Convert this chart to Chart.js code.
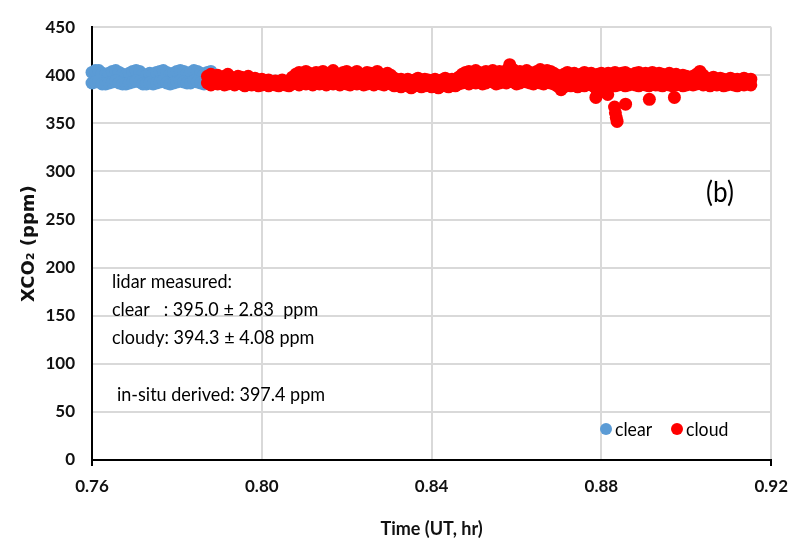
<!DOCTYPE html>
<html><head><meta charset="utf-8">
<script src="https://cdn.jsdelivr.net/npm/chart.js@4.4.0/dist/chart.umd.min.js"></script>
<style>html,body{margin:0;padding:0;background:#fff;}#wrap{width:798px;height:548px;}</style>
</head><body><div id="wrap"><canvas id="c" width="798" height="548"></canvas></div>
<script>
const xTicks = [0.76, 0.80, 0.84, 0.88, 0.92];
const yTicks = [0, 50, 100, 150, 200, 250, 300, 350, 400, 450];
const seriesNames = ['clear', 'cloud'];
const seriesColors = ['#5B9BD5', '#FF0000'];

// clear-sky soundings: time (UT, hr), upper and lower edge of the scatter band (ppm)
const clearTime = [0.7600,0.7608,0.7616,0.7624,0.7632,0.7640,0.7648,0.7656,0.7664,0.7672,0.7680,0.7688,0.7696,0.7704,0.7712,0.7720,0.7728,0.7736,0.7744,0.7752,0.7760,0.7768,0.7776,0.7784,0.7792,0.7800,0.7808,0.7816,0.7824,0.7832,0.7840,0.7848,0.7856,0.7864,0.7872,0.7880];
const clearUpper = [403,405,405,402,401,402,404,405,403,401,400,402,404,405,404,401,400,402,401,403,404,405,403,401,402,404,405,404,402,403,405,404,402,401,403,404];
const clearLower = [392,393,394,391,391,392,393,394,392,391,391,392,393,394,393,391,391,392,391,392,393,394,392,391,392,393,394,393,392,392,394,393,392,391,392,393];

// cloudy soundings
const cloudTime = [
0.7872,0.7880,0.7888,0.7896,0.7904,0.7912,0.7920,0.7928,0.7936,0.7944,
0.7952,0.7960,0.7968,0.7976,0.7984,0.7992,0.8000,0.8008,0.8016,0.8024,
0.8032,0.8040,0.8048,0.8056,0.8064,0.8072,0.8080,0.8088,0.8096,0.8104,
0.8112,0.8120,0.8128,0.8136,0.8144,0.8152,0.8160,0.8168,0.8176,0.8184,
0.8192,0.8200,0.8208,0.8216,0.8224,0.8232,0.8240,0.8248,0.8256,0.8264,
0.8272,0.8280,0.8288,0.8296,0.8304,0.8312,0.8320,0.8328,0.8336,0.8344,
0.8352,0.8360,0.8368,0.8376,0.8384,0.8392,0.8400,0.8408,0.8416,0.8424,
0.8432,0.8440,0.8448,0.8456,0.8464,0.8472,0.8480,0.8488,0.8496,0.8504,
0.8512,0.8520,0.8528,0.8536,0.8544,0.8552,0.8560,0.8568,0.8576,0.8584,
0.8592,0.8600,0.8608,0.8616,0.8624,0.8632,0.8640,0.8648,0.8656,0.8664,
0.8672,0.8680,0.8688,0.8696,0.8704,0.8712,0.8720,0.8728,0.8736,0.8744,
0.8752,0.8760,0.8768,0.8776,0.8784,0.8792,0.8800,0.8808,0.8816,0.8824,
0.8832,0.8840,0.8848,0.8856,0.8864,0.8872,0.8880,0.8888,0.8896,0.8904,
0.8912,0.8920,0.8928,0.8936,0.8944,0.8952,0.8960,0.8968,0.8976,0.8984,
0.8992,0.9000,0.9008,0.9016,0.9024,0.9032,0.9040,0.9048,0.9056,0.9064,
0.9072,0.9080,0.9088,0.9096,0.9104,0.9112,0.9120,0.9128,0.9136,0.9144,
0.9152];
const cloudUpper = [
399,401,398,400,397,399,401,398,396,399,
398,396,399,395,397,394,396,393,395,392,394,393,395,392,394,
398,401,403,400,404,402,399,403,401,404,400,402,405,401,399,403,404,400,402,404,401,399,403,402,400,404,401,398,402,400,
397,395,396,394,396,393,395,397,394,396,395,393,396,394,395,397,394,396,395,398,
401,403,404,402,405,403,401,404,402,405,403,404,402,405,411,406,403,404,402,405,403,401,404,406,403,405,404,
402,400,397,401,403,400,402,399,401,403,400,402,399,401,402,400,
402,401,403,400,402,403,401,399,402,403,400,402,401,403,399,402,401,400,402,399,401,398,400,399,
398,399,401,404,400,397,396,398,395,397,396,394,397,395,396,394,397,395,396];
const cloudLower = [
392,390,393,391,392,390,391,393,390,392,
391,389,392,390,391,389,390,392,389,391,390,389,391,390,389,
391,392,390,393,391,392,390,392,391,393,390,392,391,393,390,392,391,390,393,391,392,390,391,393,390,392,391,390,392,391,
389,390,388,390,389,387,389,390,388,389,390,388,389,387,390,389,388,390,389,391,
392,393,391,394,392,393,391,392,394,393,391,392,393,392,394,393,391,392,394,393,392,391,393,392,391,393,392,
391,389,390,388,390,389,391,388,390,389,391,390,388,390,389,390,
390,391,389,390,391,389,390,391,390,389,391,390,389,391,390,390,389,391,390,389,390,391,389,390,
391,390,391,392,390,391,389,391,390,391,389,390,391,390,389,391,390,391,390];
// isolated low cloudy retrievals near 0.87-0.90 hr
const cloudDipTime = [0.8705,0.8787,0.8790,0.8815,0.8831,0.8833,0.8835,0.8837,0.8857,0.8913,0.8972];
const cloudDipXCO2 = [385,377,380,380,367,361,356,352,370,375,377];

const noteLines = ['lidar measured:', 'clear   : 395.0 \u00B1 2.83  ppm', 'cloudy: 394.3 \u00B1 4.08 ppm'];
const insituNote = 'in-situ derived: 397.4 ppm';
const panelLabel = '(b)';
const xTitle = 'Time (UT, hr)';
const yTitle = 'XCO\u2082 (ppm)';

const FONT = "Lato, 'Open Sans', sans-serif";
const TXT = '#111';

function pts(xs, ys) { return xs.map((x, i) => ({ x: x, y: ys[i] })); }

const overlay = {
  id: 'overlay',
  afterDatasetsDraw(chart) {
    const ctx = chart.ctx;
    ctx.save();
    ctx.fillStyle = '#000';
    ctx.textBaseline = 'middle';
    ctx.textAlign = 'left';
    const sx = 0.9;
    ctx.font = "20px " + FONT;
    const lineYs = [282, 310, 338];
    ctx.save(); ctx.scale(sx, 1);
    noteLines.forEach((t, i) => ctx.fillText(t, 112 / sx, lineYs[i]));
    ctx.fillText(insituNote, 117 / sx, 395);
    ctx.restore();
    ctx.font = "29px " + FONT;
    ctx.textAlign = 'center';
    ctx.save(); ctx.scale(sx, 1);
    ctx.fillText(panelLabel, 720 / sx, 193);
    ctx.restore();
    ctx.font = "19px " + FONT;
    ctx.textAlign = 'left';
    const lx = [606, 677];
    chart.data.datasets.slice(0, 2).forEach((ds, i) => {
      ctx.beginPath();
      ctx.fillStyle = ds.backgroundColor;
      ctx.arc(lx[i], 429, 6, 0, Math.PI * 2);
      ctx.fill();
      ctx.fillStyle = '#000';
      ctx.save(); ctx.scale(0.93, 1);
      ctx.fillText(ds.label, (lx[i] + 9) / 0.93, 430);
      ctx.restore();
    });
    ctx.restore();
  }
};

const clearPts = pts(clearTime, clearUpper).concat(pts(clearTime, clearLower));
const cloudPts = pts(cloudTime, cloudUpper).concat(pts(cloudTime, cloudLower), pts(cloudDipTime, cloudDipXCO2));

new Chart(document.getElementById('c'), {
  type: 'scatter',
  data: {
    datasets: [
      { label: seriesNames[0], data: clearPts, backgroundColor: seriesColors[0], borderColor: seriesColors[0], pointRadius: 6.5, borderWidth: 0, order: 1, clip: false },
      { label: seriesNames[1], data: cloudPts, backgroundColor: seriesColors[1], borderColor: seriesColors[1], pointRadius: 6.5, borderWidth: 0, order: 0, clip: false }
    ]
  },
  options: {
    responsive: false,
    devicePixelRatio: 1,
    animation: false,
    events: [],
    layout: { padding: { top: 24, right: 24, left: 0, bottom: 0 } },
    plugins: { legend: { display: false }, tooltip: { enabled: false } },
    scales: {
      x: {
        type: 'linear', min: 0.76, max: 0.92,
        afterBuildTicks: s => { s.ticks = xTicks.map(v => ({ value: v })); },
        afterFit: s => { s.height = 88; },
        ticks: { callback: v => v.toFixed(2), color: TXT, font: { family: FONT, size: 17, weight: 'bold' }, padding: 10, maxRotation: 0 },
        grid: { color: '#d9d9d9', lineWidth: 2, drawTicks: true, tickLength: 6,
                tickColor: c => (c.index === 0 || c.index === xTicks.length - 1) ? '#000' : 'rgba(0,0,0,0)' },
        border: { color: '#000', width: 2 },
        title: { display: true, text: xTitle, color: TXT, font: { family: FONT, size: 18, weight: 'bold' }, padding: { top: 0, bottom: 8 } }
      },
      y: {
        type: 'linear', min: 0, max: 450,
        afterBuildTicks: s => { s.ticks = yTicks.map(v => ({ value: v })); },
        afterFit: s => { s.width = 92; },
        ticks: { color: TXT, font: { family: FONT, size: 17, weight: 'bold' }, padding: 17 },
        grid: { color: '#d9d9d9', lineWidth: 2, drawTicks: false },
        border: { color: '#000', width: 2 },
        title: { display: true, text: yTitle, color: TXT, font: { family: "'DejaVu Sans', sans-serif", size: 18, weight: 'bold' }, padding: { top: 19, bottom: 0 } }
      }
    }
  },
  plugins: [overlay]
});
</script></body></html>
